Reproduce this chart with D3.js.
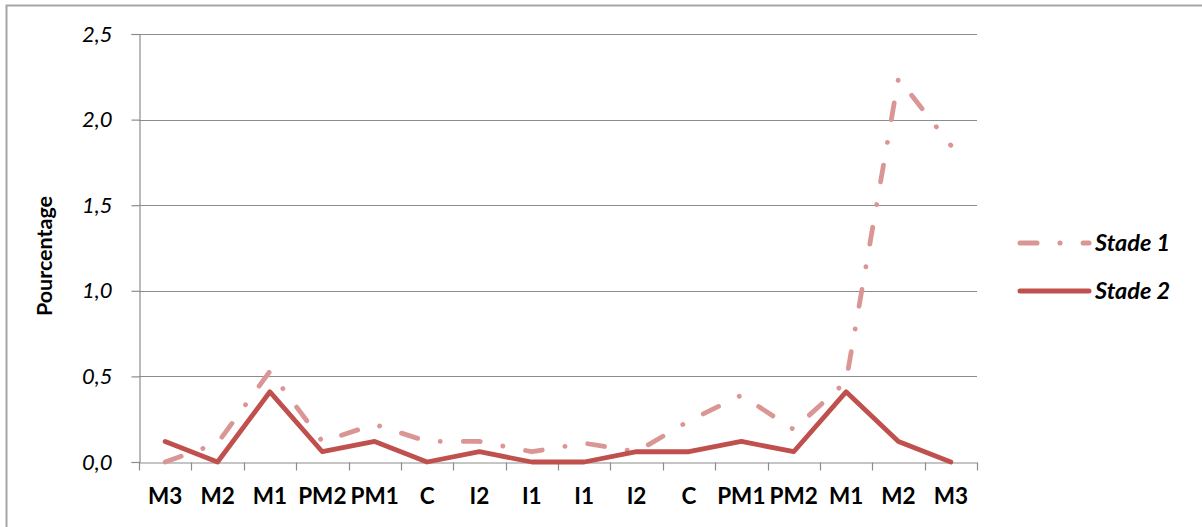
<!DOCTYPE html>
<html>
<head>
<meta charset="utf-8">
<script src="https://cdn.jsdelivr.net/npm/d3@7"></script>
<style>
  html, body { margin: 0; padding: 0; background: #fff; }
  svg { display: block; }
  text { font-family: Lato, "Open Sans", sans-serif; }
</style>
</head>
<body>
<svg id="chart" width="1202" height="527"></svg>
<script>
const categories = ["M3","M2","M1","PM2","PM1","C","I2","I1","I1","I2","C","PM1","PM2","M1","M2","M3"];
const stade1 = [0.00, 0.11, 0.53, 0.12, 0.22, 0.12, 0.12, 0.06, 0.11, 0.06, 0.24, 0.39, 0.19, 0.47, 2.24, 1.85];
const stade2 = [0.12, 0.00, 0.41, 0.06, 0.12, 0.00, 0.06, 0.00, 0.00, 0.06, 0.06, 0.12, 0.06, 0.41, 0.12, 0.00];
const yTicks = [0, 0.5, 1.0, 1.5, 2.0, 2.5];
const seriesNames = ["Stade 1", "Stade 2"];
const colors = ["#DA9694", "#C0504D"];

const svg = d3.select("#chart");
const W = 1202, H = 527;
const pLeft = 139, pRight = 977, pTop = 34, pBottom = 462;

// outer border
svg.append("rect").attr("x", 6.5).attr("y", 5.5).attr("width", W + 10).attr("height", H + 10)
  .attr("fill", "none").attr("stroke", "#a6a6a6").attr("stroke-width", 2);

const idx = d3.range(categories.length);
const x = d3.scaleBand().domain(idx).range([pLeft, pRight]).padding(0);
const y = d3.scaleLinear().domain([0, 2.5]).range([pBottom, pTop]);
const fmt = v => d3.format(".1f")(v).replace(".", ",");

// gridlines
svg.append("g").selectAll("line").data(yTicks.filter(v => v > 0)).join("line")
  .attr("x1", pLeft).attr("x2", pRight)
  .attr("y1", d => Math.round(y(d)) + 0.5).attr("y2", d => Math.round(y(d)) + 0.5)
  .attr("stroke", "#8c8c8c").attr("stroke-width", 1.2);

// y axis
const yAxis = svg.append("g").attr("transform", `translate(${pLeft + 0.5},0)`)
  .call(d3.axisLeft(y).tickValues(yTicks).tickFormat(fmt).tickSize(8).tickPadding(19));
yAxis.select(".domain").attr("stroke", "#8c8c8c").attr("stroke-width", 1.2);
yAxis.selectAll(".tick line").attr("stroke", "#8c8c8c").attr("stroke-width", 1.2);
yAxis.selectAll(".tick text").attr("font-size", 22).attr("font-style", "italic")
  .attr("fill", "#000").attr("font-family", "Lato, sans-serif");

// x axis
const xAxis = svg.append("g").attr("transform", `translate(0,${pBottom + 0.5})`)
  .call(d3.axisBottom(x).tickFormat(i => categories[i]).tickSize(0).tickPadding(26));
xAxis.select(".domain").attr("stroke", "#8c8c8c").attr("stroke-width", 1.2);
xAxis.selectAll(".tick text").attr("font-size", 22.5).attr("font-weight", "bold")
  .attr("fill", "#000").attr("font-family", "Lato, sans-serif");
// category boundary ticks
const bounds = idx.map(i => x(i)).concat([x(idx[idx.length - 1]) + x.bandwidth()]);
xAxis.append("g").selectAll("line").data(bounds).join("line")
  .attr("x1", d => Math.round(d) + 0.5).attr("x2", d => Math.round(d) + 0.5)
  .attr("y1", 0).attr("y2", 8).attr("stroke", "#8c8c8c").attr("stroke-width", 1.2);

// y title
svg.append("text").attr("transform", `translate(52,256) rotate(-90)`)
  .attr("text-anchor", "middle").attr("font-size", 21.5).attr("font-weight", "bold")
  .text("Pourcentage");

const line = d3.line().x((d, i) => x(i) + x.bandwidth() / 2).y(d => y(d));

svg.append("path").datum(stade1).attr("d", line)
  .attr("fill", "none").attr("stroke", colors[0]).attr("stroke-width", 4.8)
  .attr("stroke-linecap", "round").attr("stroke-linejoin", "round")
  .attr("stroke-dasharray", "17,23,0.1,23");

svg.append("path").datum(stade2).attr("d", line)
  .attr("fill", "none").attr("stroke", colors[1]).attr("stroke-width", 4.8)
  .attr("stroke-linecap", "round").attr("stroke-linejoin", "round");

// legend
const lg = svg.append("g");
const legY = [243, 291];
seriesNames.forEach((name, i) => {
  const l = lg.append("line").attr("x1", 1020).attr("x2", 1089)
    .attr("y1", legY[i]).attr("y2", legY[i])
    .attr("stroke", colors[i]).attr("stroke-width", 5).attr("stroke-linecap", "round");
  if (i === 0) l.attr("stroke-dasharray", "17,23,0.1,23");
  lg.append("text").attr("x", 1095).attr("y", legY[i]).attr("dy", "0.35em")
    .attr("font-size", 23.5).attr("font-weight", "bold").attr("font-style", "italic")
    .text(name);
});
</script>
</body>
</html>
